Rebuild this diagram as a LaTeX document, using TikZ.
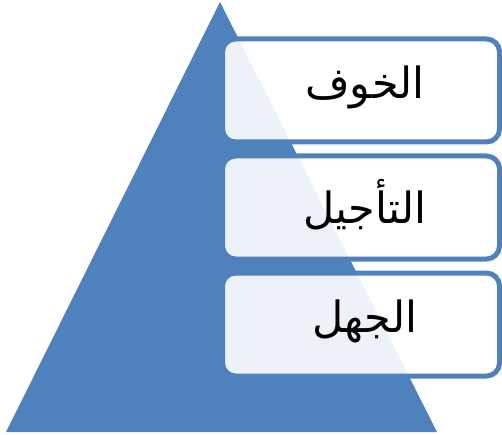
\documentclass[tikz,border=0pt]{standalone}
\usepackage{fontspec}
\newfontfamily\arabicfont[Script=Arabic]{DejaVu Sans}
\TeXXeTstate=1
\definecolor{accent}{HTML}{4F81BD}
\begin{document}
\begin{tikzpicture}[x=1pt,y=-1pt,
  levelbox/.style={draw=accent, line width=5pt, fill=white, fill opacity=0.9,
    rounded corners=13pt, minimum width=277pt, minimum height=103pt, inner sep=0pt, outer sep=0pt},
  levellabel/.style={inner sep=0pt, font=\arabicfont\fontsize{43}{50}\selectfont}]
\useasboundingbox (0,0) rectangle (502,435);
\fill[accent] (220,2) coordinate (apex) -- (437,432) coordinate (br) -- (6,432) coordinate (bl) -- cycle;
\node[levelbox] (b1) at (361,90.5) {};
\node[levelbox] (b2) at (361,207.5) {};
\node[levelbox] (b3) at (361,324.5) {};
\node[levellabel] (t1) at ([xshift=4pt,yshift=3pt]b1.center) {\beginR الخوف\endR};
\node[levellabel] (t2) at ([xshift=4pt,yshift=3pt]b2.center) {\beginR التأجيل\endR};
\node[levellabel] (t3) at ([xshift=4pt,yshift=3pt]b3.center) {\beginR الجهل\endR};
\end{tikzpicture}
\end{document}
